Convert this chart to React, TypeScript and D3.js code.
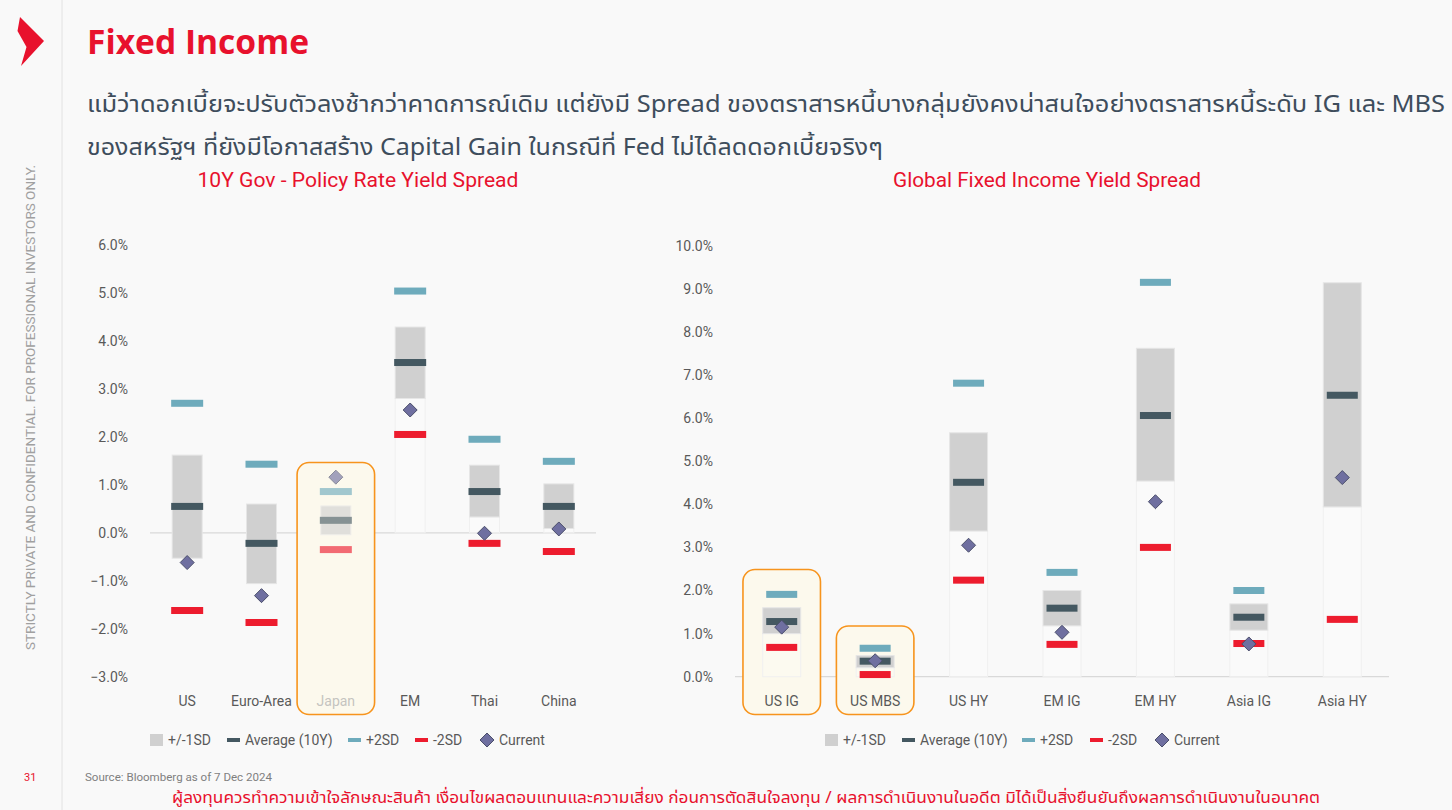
import React from "react";
import * as d3 from "d3";

// ---------- Data ----------
const leftCategories = ["US", "Euro-Area", "Japan", "EM", "Thai", "China"];
const leftSdLow = [-0.53, -1.06, -0.04, 2.8, 0.33, 0.09];
const leftSdHigh = [1.62, 0.6, 0.56, 4.29, 1.41, 1.02];
const leftAvg = [0.55, -0.22, 0.26, 3.55, 0.86, 0.55];
const leftPlus2 = [2.7, 1.43, 0.86, 5.04, 1.95, 1.49];
const leftMinus2 = [-1.62, -1.87, -0.35, 2.05, -0.22, -0.39];
const leftCurrent = [-0.62, -1.31, 1.16, 2.56, -0.01, 0.08];
const leftTicks = [-3, -2, -1, 0, 1, 2, 3, 4, 5, 6];

const rightCategories = ["US IG", "US MBS", "US HY", "EM IG", "EM HY", "Asia IG", "Asia HY"];
const rightSdLow = [1.0, 0.21, 3.38, 1.18, 4.54, 1.08, 3.94];
const rightSdHigh = [1.6, 0.49, 5.66, 2.0, 7.62, 1.69, 9.14];
const rightAvg = [1.28, 0.36, 4.51, 1.59, 6.06, 1.38, 6.53];
const rightPlus2: (number | null)[] = [1.91, 0.66, 6.81, 2.42, 9.15, 2.0, null];
const rightMinus2 = [0.68, 0.05, 2.24, 0.75, 3.0, 0.77, 1.33];
const rightCurrent = [1.15, 0.37, 3.05, 1.03, 4.06, 0.76, 4.62];
const rightTicks = [0, 1, 2, 3, 4, 5, 6, 7, 8, 9, 10];

const legendLabels = ["+/-1SD", "Average (10Y)", "+2SD", "-2SD", "Current"];

const titleText = "Fixed Income";
const bodyLine1 =
  "แม้ว่าดอกเบี้ยจะปรับตัวลงช้ากว่าคาดการณ์เดิม แต่ยังมี Spread ของตราสารหนี้บางกลุ่มยังคงน่าสนใจอย่างตราสารหนี้ระดับ IG และ MBS";
const bodyLine2 = "ของสหรัฐฯ ที่ยังมีโอกาสสร้าง Capital Gain ในกรณีที่ Fed ไม่ได้ลดดอกเบี้ยจริงๆ";
const leftTitle = "10Y Gov - Policy Rate Yield Spread";
const rightTitle = "Global Fixed Income Yield Spread";
const sourceText = "Source: Bloomberg as of 7 Dec 2024";
const disclaimer =
  "ผู้ลงทุนควรทำความเข้าใจลักษณะสินค้า เงื่อนไขผลตอบแทนและความเสี่ยง ก่อนการตัดสินใจลงทุน / ผลการดำเนินงานในอดีต มิได้เป็นสิ่งยืนยันถึงผลการดำเนินงานในอนาคต";
const sideText = "STRICTLY PRIVATE AND CONFIDENTIAL. FOR PROFESSIONAL INVESTORS ONLY.";

// ---------- Styles ----------
const C = {
  bg: "#f9f9f9",
  red: "#e8112d",
  box: "#d0d0d0",
  avg: "#445861",
  plus: "#6eabbc",
  minus: "#ed1c2e",
  diamond: "#6f6fa0",
  diamondStroke: "#4b4f6b",
  text: "#595959",
  zero: "#d9d9d9",
  orange: "#f7941d",
  cream: "#fcf9ed",
};
const FONT = "Roboto, 'Liberation Sans', sans-serif";
const THAI = "'Noto Sans Thai', 'Noto Sans', sans-serif";

type HL = { idx: number; top: number; overlay: boolean };
type ChartProps = {
  cats: string[];
  low: number[];
  high: number[];
  avg: number[];
  plus2: (number | null)[];
  minus2: number[];
  current: number[];
  ticks: number[];
  x0: number;
  x1: number;
  yTop: number;
  yBottom: number;
  domain: [number, number];
  boxW: number;
  dashW: number;
  tickX: number;
  highlight: HL[];
  legendX: number[];
};

function Diamond({ cx, cy, r }: { cx: number; cy: number; r: number }) {
  return (
    <path
      d={`M${cx},${cy - r}L${cx + r},${cy}L${cx},${cy + r}L${cx - r},${cy}Z`}
      fill={C.diamond}
      stroke={C.diamondStroke}
      strokeWidth={1}
    />
  );
}

function Chart(p: ChartProps) {
  const x = d3.scaleBand<string>().domain(p.cats).range([p.x0, p.x1]).padding(0);
  const y = d3.scaleLinear().domain(p.domain).range([p.yBottom, p.yTop]);
  const fmt = d3.format(".1f");
  const dashW = p.dashW;
  const dashH = 7;
  const cx = (c: string) => (x(c) as number) + x.bandwidth() / 2;
  const hlW = 77.5;
  const hlBottom = 714.5;

  const hlRect = (h: HL, fill: string, op: number, stroke: boolean, key: string) => {
    const c = cx(p.cats[h.idx]);
    return (
      <rect
        key={key}
        x={c - hlW / 2}
        y={h.top}
        width={hlW}
        height={hlBottom - h.top}
        rx={12}
        fill={fill}
        fillOpacity={op}
        stroke={stroke ? C.orange : "none"}
        strokeWidth={1.6}
      />
    );
  };
  const isOverlay = (i: number) => p.highlight.some((h) => h.overlay && h.idx === i);

  const ly = 740;
  return (
    <g>
      {/* tick labels */}
      {p.ticks.map((t) => (
        <text
          key={"t" + t}
          x={p.tickX}
          y={y(t)}
          dy="0.35em"
          textAnchor="end"
          fontFamily={FONT}
          fontSize={14}
          fill={C.text}
        >
          {fmt(t) + "%"}
        </text>
      ))}
      {/* zero line */}
      <line x1={p.x0} x2={p.x1} y1={y(0)} y2={y(0)} stroke={C.zero} strokeWidth={1.2} />
      {/* highlight backgrounds */}
      {p.highlight.map((h) => hlRect(h, C.cream, 1, !h.overlay, "hb" + h.idx))}
      {/* white base segments */}
      {p.cats.map((c, i) =>
        p.low[i] > 0 ? (
          <rect
            key={"w" + c}
            x={cx(c) - p.boxW / 2}
            y={y(p.low[i])}
            width={p.boxW}
            height={y(0) - y(p.low[i])}
            fill="#ffffff"
            fillOpacity={0.2}
            stroke="#f0f0f0"
            strokeWidth={1}
          />
        ) : null
      )}
      {/* 1SD boxes */}
      {p.cats.map((c, i) => (
        <rect
          key={"b" + c}
          x={cx(c) - p.boxW / 2}
          y={y(p.high[i])}
          width={p.boxW}
          height={y(p.low[i]) - y(p.high[i])}
          fill={C.box}
          stroke="#e6e6e6"
          strokeWidth={1}
        />
      ))}
      {/* +2SD */}
      {p.cats.map((c, i) =>
        p.plus2[i] == null ? null : (
          <rect
            key={"p" + c}
            x={cx(c) - dashW / 2}
            y={y(p.plus2[i] as number) - dashH / 2}
            width={dashW}
            height={dashH}
            fill={C.plus}
          />
        )
      )}
      {/* -2SD */}
      {p.cats.map((c, i) => (
        <rect
          key={"m" + c}
          x={cx(c) - dashW / 2}
          y={y(p.minus2[i]) - dashH / 2}
          width={dashW}
          height={dashH}
          fill={C.minus}
        />
      ))}
      {/* average */}
      {p.cats.map((c, i) => (
        <rect
          key={"a" + c}
          x={cx(c) - dashW / 2}
          y={y(p.avg[i]) - dashH / 2}
          width={dashW}
          height={dashH}
          fill={C.avg}
        />
      ))}
      {/* current */}
      {p.cats.map((c, i) => (
        <Diamond key={"d" + c} cx={cx(c)} cy={y(p.current[i])} r={7} />
      ))}
      {/* category labels */}
      {p.cats.map((c, i) => (
        <text
          key={"c" + c}
          x={cx(c)}
          y={701}
          dy="0.35em"
          textAnchor="middle"
          fontFamily={FONT}
          fontSize={14}
          fill={isOverlay(i) ? "#a6a6a6" : C.text}
        >
          {c}
        </text>
      ))}
      {/* overlay highlights (fade) */}
      {p.highlight.filter((h) => h.overlay).map((h) => hlRect(h, C.cream, 0.36, true, "ho" + h.idx))}
      {/* legend */}
      <rect x={p.legendX[0]} y={ly - 6} width={13} height={12} fill={C.box} />
      <rect x={p.legendX[1]} y={ly - 2} width={13} height={4} fill={C.avg} />
      <rect x={p.legendX[2]} y={ly - 2} width={13} height={4} fill={C.plus} />
      <rect x={p.legendX[3]} y={ly - 2} width={13} height={4} fill={C.minus} />
      <Diamond cx={p.legendX[4] + 7} cy={ly} r={7} />
      {legendLabels.map((l, i) => (
        <text
          key={"l" + l}
          x={p.legendX[i] + (i === 4 ? 19 : 18)}
          y={ly}
          dy="0.35em"
          fontFamily={FONT}
          fontSize={14}
          fill={C.text}
        >
          {l}
        </text>
      ))}
    </g>
  );
}

export default function App() {
  return (
    <svg
      width={1452}
      height={810}
      style={{ position: "absolute", left: 0, top: 0, display: "block" }}
    >
      <rect x={0} y={0} width={1452} height={810} fill={C.bg} />
      {/* side rule */}
      <line x1={62} x2={62} y1={0} y2={810} stroke="#e2e2e2" strokeWidth={1} />
      {/* logo */}
      <path d="M20,17 L44,41 L21,66 L26.5,47 L17.5,31 Z" fill={C.red} />
      {/* side text */}
      <text
        transform="translate(35,650) rotate(-90)"
        fontFamily={FONT}
        fontSize={12}
        fill="#a0a0a0"
        textLength={485}
        lengthAdjust="spacingAndGlyphs"
      >
        {sideText}
      </text>
      {/* Title */}
      <text x={87} y={54} fontFamily="'Open Sans', Roboto, sans-serif" fontWeight={700} fontSize={34} fill={C.red} textLength={222} lengthAdjust="spacingAndGlyphs">
        {titleText}
      </text>
      <text x={87} y={112} fontFamily={THAI} fontSize={23} fill="#3e4d5c" textLength={1358} lengthAdjust="spacingAndGlyphs">
        {bodyLine1}
      </text>
      <text x={87} y={155} fontFamily={THAI} fontSize={23} fill="#3e4d5c" textLength={796} lengthAdjust="spacingAndGlyphs">
        {bodyLine2}
      </text>
      {/* chart titles */}
      <text x={358} y={187} textAnchor="middle" fontFamily={FONT} fontSize={20} fill={C.red} textLength={321} lengthAdjust="spacingAndGlyphs">
        {leftTitle}
      </text>
      <text x={1047} y={187} textAnchor="middle" fontFamily={FONT} fontSize={20} fill={C.red} textLength={308} lengthAdjust="spacingAndGlyphs">
        {rightTitle}
      </text>

      <Chart
        cats={leftCategories}
        low={leftSdLow}
        high={leftSdHigh}
        avg={leftAvg}
        plus2={leftPlus2}
        minus2={leftMinus2}
        current={leftCurrent}
        ticks={leftTicks}
        x0={150}
        x1={596}
        yTop={245}
        yBottom={676.7}
        domain={[-3, 6]}
        boxW={30}
        dashW={32}
        tickX={128}
        highlight={[{ idx: 2, top: 462.5, overlay: true }]}
        legendX={[150, 227, 348, 415, 480]}
      />
      <Chart
        cats={rightCategories}
        low={rightSdLow}
        high={rightSdHigh}
        avg={rightAvg}
        plus2={rightPlus2}
        minus2={rightMinus2}
        current={rightCurrent}
        ticks={rightTicks}
        x0={735}
        x1={1389}
        yTop={245.7}
        yBottom={676.7}
        domain={[0, 10]}
        boxW={38}
        dashW={31}
        tickX={713}
        highlight={[
          { idx: 0, top: 569.5, overlay: false },
          { idx: 1, top: 626, overlay: false },
        ]}
        legendX={[825, 902, 1022, 1090, 1155]}
      />

      {/* footer */}
      <text x={24} y={781} fontFamily={FONT} fontSize={11} fill={C.red}>
        31
      </text>
      <text x={85} y={781} fontFamily={FONT} fontSize={11} fill="#7f7f7f" textLength={187} lengthAdjust="spacingAndGlyphs">
        {sourceText}
      </text>
      <text x={172} y={803} fontFamily={THAI} fontSize={16} fill={C.red} textLength={1148} lengthAdjust="spacingAndGlyphs">
        {disclaimer}
      </text>
    </svg>
  );
}
